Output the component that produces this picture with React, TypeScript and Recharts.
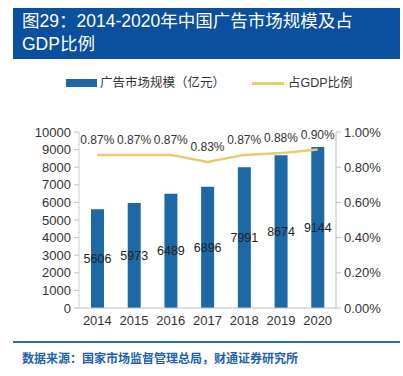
import React from 'react';
import { ComposedChart, Bar, Line, XAxis, YAxis, LabelList, Legend } from 'recharts';

const years = ['2014', '2015', '2016', '2017', '2018', '2019', '2020'];
const marketSize = [5606, 5973, 6489, 6896, 7991, 8674, 9144];
const gdpShare = [0.87, 0.87, 0.87, 0.83, 0.87, 0.88, 0.9];
const leftTicks = [0, 1000, 2000, 3000, 4000, 5000, 6000, 7000, 8000, 9000, 10000];
const rightTicks = [0, 0.2, 0.4, 0.6, 0.8, 1.0];

const title = '图29：2014-2020年中国广告市场规模及占GDP比例';
const source = '数据来源：国家市场监督管理总局，财通证券研究所';
const barName = '广告市场规模（亿元）';
const lineName = '占GDP比例';

const data = years.map((y, i) => ({ year: y, size: marketSize[i], share: gdpShare[i] }));

const FONT = '"Liberation Sans", Arial, "Noto Sans CJK SC", sans-serif';
const BLUE = '#1d69a6';
const YELLOW = '#e9c96a';

const LegendContent = () => (
  <div style={{ position: 'relative', width: 403, height: 20, fontFamily: FONT, fontSize: 12.5, color: '#333' }}>
    <div style={{ position: 'absolute', left: 66, top: 6, width: 31, height: 8, background: BLUE }} />
    <div style={{ position: 'absolute', left: 100, top: 2, lineHeight: '16px', whiteSpace: 'nowrap' }}>{barName}</div>
    <div style={{ position: 'absolute', left: 252, top: 9, width: 32, height: 2.5, background: YELLOW }} />
    <div style={{ position: 'absolute', left: 288, top: 2, lineHeight: '16px', whiteSpace: 'nowrap' }}>{lineName}</div>
  </div>
);

export default function App() {
  return (
    <div style={{ position: 'absolute', left: 0, top: 0, width: 403, height: 376, background: '#fff', overflow: 'hidden' }}>
      <div
        style={{
          position: 'absolute', left: 13, top: 8, width: 387, height: 51, background: '#0b4f9f',
          color: '#fff', fontFamily: FONT, fontSize: 17.5, lineHeight: '23px', padding: '2px 0 0 9px',
          boxSizing: 'border-box',
        }}
      >
        {title.slice(0, 24)}
        <br />
        {title.slice(24)}
      </div>
      <div style={{ position: 'absolute', left: 0, top: 0 }}>
        <ComposedChart width={403} height={376} data={data} margin={{ top: 112, right: 0, bottom: 38, left: 0 }} barCategoryGap="31%">
          <Legend verticalAlign="top" wrapperStyle={{ position: 'absolute', top: 73, left: 0 }} content={() => <LegendContent />} />
          <XAxis
            dataKey="year"
            tickLine={false}
            axisLine={{ stroke: '#bfbfbf' }}
            tick={{ fontSize: 13, fill: '#333', fontFamily: FONT }}
            height={30}
            interval={0}
          />
          <YAxis
            yAxisId="left"
            domain={[0, 10000]}
            ticks={leftTicks}
            width={79}
            axisLine={{ stroke: '#d0d0d0' }}
            tickLine={{ stroke: '#bfbfbf' }}
            tickSize={5}
            tickMargin={3}
            tick={{ fontSize: 13, fill: '#333', fontFamily: FONT }}
            interval={0}
          />
          <YAxis
            yAxisId="right"
            orientation="right"
            domain={[0, 1]}
            ticks={rightTicks}
            width={67}
            axisLine={{ stroke: '#bfbfbf' }}
            tickLine={{ stroke: '#bfbfbf' }}
            tickSize={5}
            tickMargin={3}
            tickFormatter={(v: number) => v.toFixed(2) + '%'}
            tick={{ fontSize: 13, fill: '#333', fontFamily: FONT }}
            interval={0}
          />
          <Bar yAxisId="left" dataKey="size" fill={BLUE} barSize={13} isAnimationActive={false}>
            <LabelList dataKey="size" position="center" style={{ fontSize: 12.5, fill: '#222', fontFamily: FONT }} />
          </Bar>
          <Line
            yAxisId="right"
            dataKey="share"
            stroke={YELLOW}
            strokeWidth={2.5}
            dot={false}
            isAnimationActive={false}
          >
            <LabelList
              dataKey="share"
              position="top"
              offset={11}
              formatter={(v: number) => v.toFixed(2) + '%'}
              style={{ fontSize: 12, fill: '#333', fontFamily: FONT }}
            />
          </Line>
        </ComposedChart>
      </div>
      <div style={{ position: 'absolute', left: 13, top: 341, width: 387, height: 1.5, background: '#2a6cb5' }} />
      <div
        style={{
          position: 'absolute', left: 22, top: 350, fontFamily: FONT, fontSize: 12, fontWeight: 'bold',
          color: '#2060b0', whiteSpace: 'nowrap', lineHeight: '18px',
        }}
      >
        {source}
      </div>
    </div>
  );
}
